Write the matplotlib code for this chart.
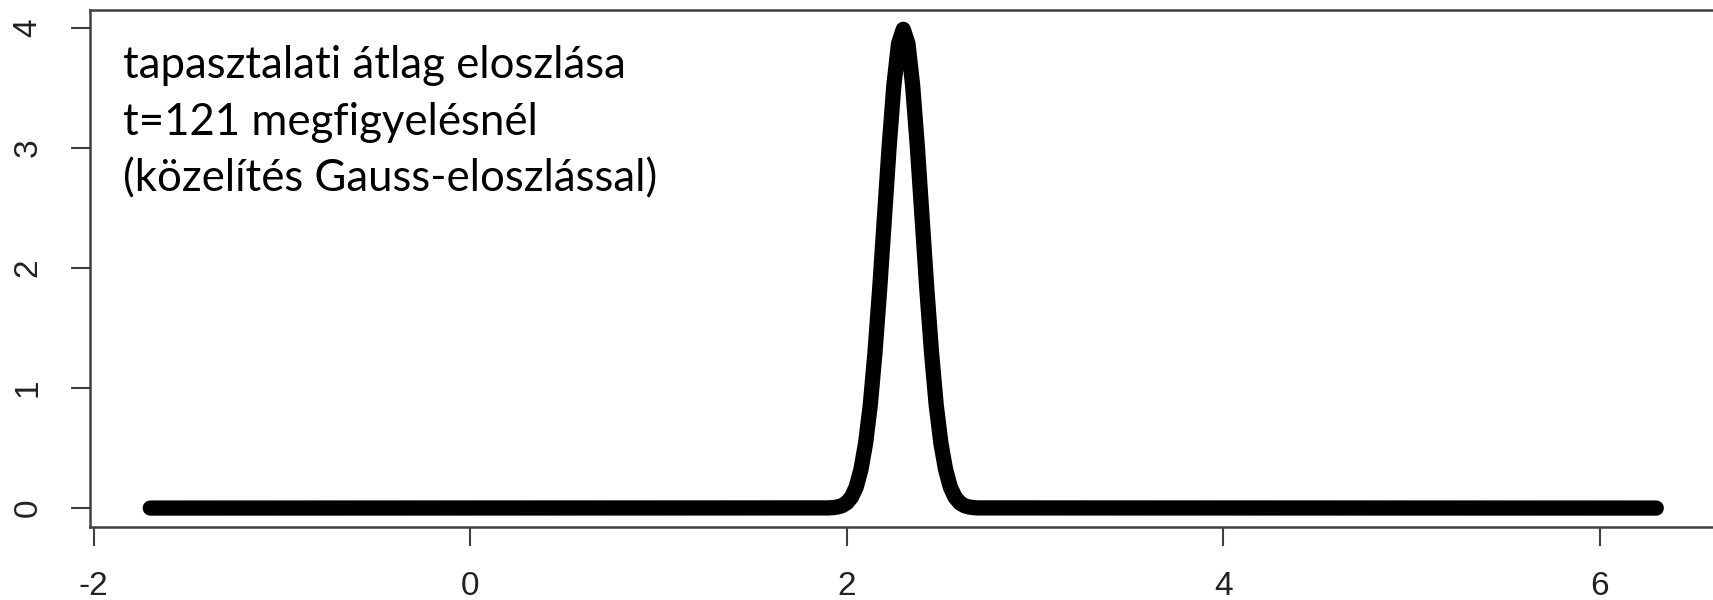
import matplotlib
matplotlib.use("Agg")
import matplotlib.pyplot as plt

# density of the sample mean
x_vals = [-1.70, 1.900, 1.925, 1.950, 1.975, 2.000, 2.025, 2.050, 2.075,
          2.100, 2.125, 2.150, 2.175, 2.200, 2.225, 2.250, 2.275, 2.300,
          2.325, 2.350, 2.375, 2.400, 2.425, 2.450, 2.475, 2.500, 2.525,
          2.550, 2.575, 2.600, 2.625, 2.650, 2.675, 2.700, 6.30]
y_vals = [0.0, 0.0013, 0.0035, 0.009, 0.020, 0.044, 0.091, 0.175, 0.32,
          0.54, 0.86, 1.30, 1.83, 2.42, 3.01, 3.52, 3.87, 3.99,
          3.87, 3.52, 3.01, 2.42, 1.83, 1.30, 0.86, 0.54, 0.32,
          0.175, 0.091, 0.044, 0.020, 0.009, 0.0035, 0.0013, 0.0]

x_ticks = [-2, 0, 2, 4, 6]
y_ticks = [0, 1, 2, 3, 4]
note_lines = ["tapasztalati átlag eloszlása",
              "t=121 megfigyelésnél",
              "(közelítés Gauss-eloszlással)"]

W, H = 1713, 600
fig = plt.figure(figsize=(W / 100, H / 100), dpi=100)
ax = fig.add_axes([90 / W, 0.1213, 1626.5 / W, 0.8618])

ax.plot(x_vals, y_vals, color="black", linewidth=11,
        solid_capstyle="round", solid_joinstyle="round")

# R style limits: 4% padding on each side
xr = max(x_vals) - min(x_vals)
yr = max(y_vals) - min(y_vals)
ax.set_xlim(min(x_vals) - 0.04 * xr, max(x_vals) + 0.04 * xr)
ax.set_ylim(min(y_vals) - 0.04 * yr, max(y_vals) + 0.04 * yr)

ax.set_xticks(x_ticks)
ax.set_yticks(y_ticks)
ax.set_xticklabels([str(v) for v in x_ticks], fontfamily="Liberation Sans",
                   fontsize=24, color="#222222")
ax.set_yticklabels([str(v) for v in y_ticks], fontfamily="Liberation Sans",
                   fontsize=24, color="#222222", rotation=90, va="center")
ax.tick_params(axis="both", direction="out", length=13.5, width=1.5,
               color="#404040")
ax.tick_params(axis="x", pad=18)
ax.tick_params(axis="y", pad=20)

for side in ["left", "bottom", "top"]:
    ax.spines[side].set_linewidth(1.8)
    ax.spines[side].set_color("#404040")
ax.spines["right"].set_visible(False)

for line, yb in zip(note_lines, [0.869, 0.7586, 0.6485]):
    ax.text(0.02, yb, line, transform=ax.transAxes, fontfamily="Lato",
            fontsize=31.5, va="baseline", ha="left", color="black")

fig.savefig("out.png", dpi=100)
